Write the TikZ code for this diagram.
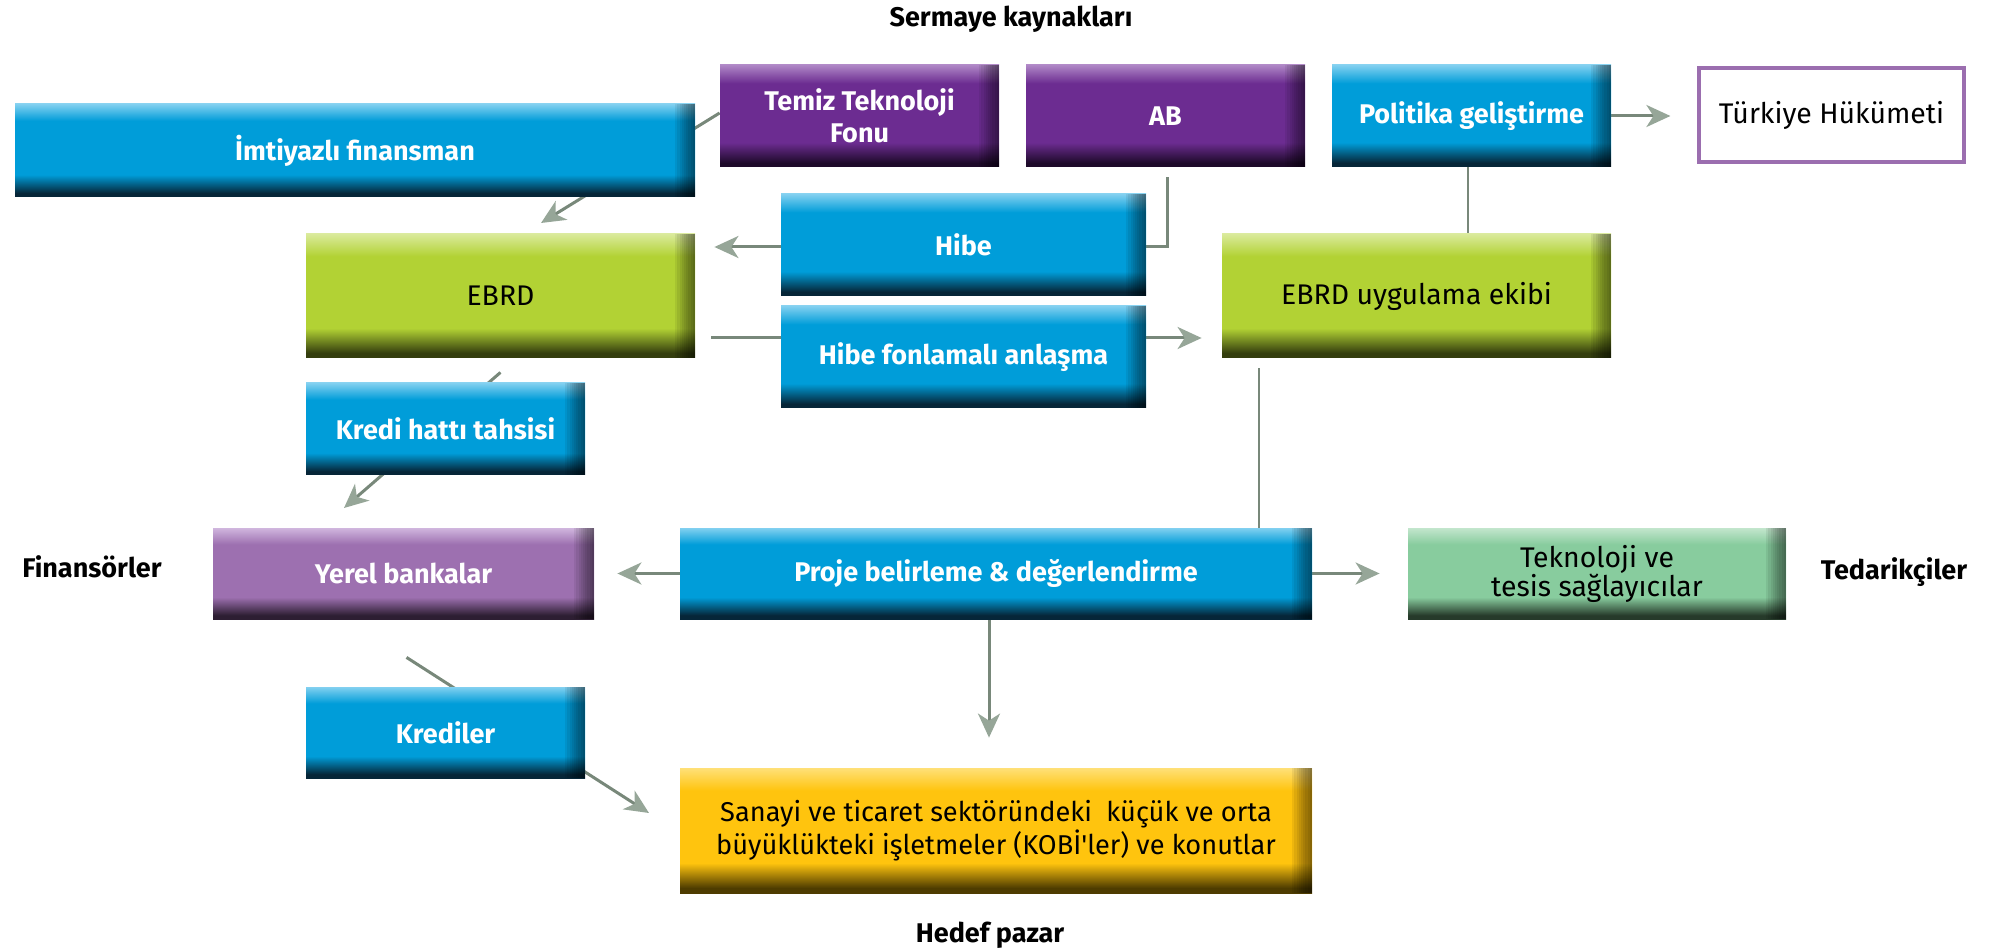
\documentclass[tikz,border=0pt]{standalone}
\usepackage{fontspec}
\setmainfont{Fira Sans}
\usetikzlibrary{arrows.meta,calc,backgrounds}

\definecolor{bluemn}{RGB}{0,157,217}
\definecolor{bluelt}{RGB}{130,208,240}
\definecolor{bluedk}{RGB}{6,38,56}
\definecolor{purmn}{RGB}{108,44,145}
\definecolor{purlt}{RGB}{175,135,198}
\definecolor{purdk}{RGB}{30,10,42}
\definecolor{lpmn}{RGB}{157,112,176}
\definecolor{lplt}{RGB}{208,182,222}
\definecolor{lpdk}{RGB}{45,30,50}
\definecolor{grmn}{RGB}{178,210,52}
\definecolor{grlt}{RGB}{218,234,155}
\definecolor{grdk}{RGB}{52,62,14}
\definecolor{mnmn}{RGB}{136,204,158}
\definecolor{mnlt}{RGB}{195,230,205}
\definecolor{mndk}{RGB}{38,58,42}
\definecolor{ylmn}{RGB}{255,196,14}
\definecolor{yllt}{RGB}{255,224,120}
\definecolor{yldk}{RGB}{78,60,0}
\definecolor{tkbd}{RGB}{155,110,175}
\definecolor{lnc}{RGB}{120,136,122}
\definecolor{arc}{RGB}{150,166,152}

\pgfdeclareverticalshading{shblue}{100bp}{color(0bp)=(bluedk); color(27bp)=(bluedk); color(37bp)=(bluemn); color(66bp)=(bluemn); color(75bp)=(bluelt); color(100bp)=(bluelt)}
\pgfdeclareverticalshading{shpur}{100bp}{color(0bp)=(purdk); color(27bp)=(purdk); color(37bp)=(purmn); color(66bp)=(purmn); color(75bp)=(purlt); color(100bp)=(purlt)}
\pgfdeclareverticalshading{shlp}{100bp}{color(0bp)=(lpdk); color(27bp)=(lpdk); color(37bp)=(lpmn); color(66bp)=(lpmn); color(75bp)=(lplt); color(100bp)=(lplt)}
\pgfdeclareverticalshading{shgr}{100bp}{color(0bp)=(grdk); color(27bp)=(grdk); color(37bp)=(grmn); color(66bp)=(grmn); color(75bp)=(grlt); color(100bp)=(grlt)}
\pgfdeclareverticalshading{shmn}{100bp}{color(0bp)=(mndk); color(27bp)=(mndk); color(37bp)=(mnmn); color(66bp)=(mnmn); color(75bp)=(mnlt); color(100bp)=(mnlt)}
\pgfdeclareverticalshading{shyl}{100bp}{color(0bp)=(yldk); color(27bp)=(yldk); color(37bp)=(ylmn); color(66bp)=(ylmn); color(75bp)=(yllt); color(100bp)=(yllt)}

\tikzset{
  box/.style={rectangle, inner sep=2pt, align=center, shade,
    path picture={\foreach \i in {1,...,9} {\fill[black,opacity=0.065]
      ([xshift={-1.1pt*\i}]path picture bounding box.south east) rectangle (path picture bounding box.north east);}}},
  whtxt/.style={text=white, font=\fontsize{13.5}{16}\selectfont\bfseries},
  bltxt/.style={text=black, font=\fontsize{14.2}{16.5}\selectfont},
  bluebox/.style={box, shading=shblue, whtxt},
  purbox/.style={box, shading=shpur, whtxt},
  lpbox/.style={box, shading=shlp, whtxt},
  grbox/.style={box, shading=shgr, bltxt},
  mnbox/.style={box, shading=shmn, bltxt},
  ylbox/.style={box, shading=shyl, text=black, font=\fontsize{13.6}{15.5}\selectfont},
  govbox/.style={rectangle, draw=tkbd, line width=1.6pt, fill=white, align=center, bltxt},
  lbl/.style={font=\fontsize{13.5}{16}\selectfont\bfseries, text=black},
  conn/.style={draw=lnc, line width=1.5pt},
  thin/.style={draw=lnc, line width=1pt},
  arr/.style={conn, -{Stealth[length=12pt,width=11pt,inset=3.5pt,color=arc]}}
}

\begin{document}
\begin{tikzpicture}[x=0.5pt,y=-0.5pt]
\useasboundingbox (0,0) rectangle (1990,951);

\node[lbl] (title) at (1011,19) {Sermaye kaynakları};
\node[purbox, minimum width=139.5pt, minimum height=51pt] (temiz) at (859.5,116) {Temiz Teknoloji\\Fonu};
\node[purbox, minimum width=139.5pt, minimum height=51pt] (ab) at (1165.5,116) {AB};
\node[bluebox, minimum width=139.5pt, minimum height=51pt] (politika) at (1471.5,116) {Politika geliştirme};
\node[govbox, minimum width=132.5pt, minimum height=47pt] (turkiye) at (1831.5,115) {Türkiye Hükümeti};
\node[bluebox, minimum width=340pt, minimum height=46.5pt] (imtiyaz) at (355,150.5) {İmtiyazlı finansman};
\node[grbox, minimum width=194.5pt, minimum height=62pt] (ebrd) at (500.5,296) {EBRD};
\node[bluebox, minimum width=182.5pt, minimum height=51pt] (hibe) at (963.5,245) {Hibe};
\node[bluebox, minimum width=182.5pt, minimum height=51pt] (hibefon) at (963.5,357) {Hibe fonlamalı anlaşma};
\node[grbox, minimum width=194.5pt, minimum height=62pt] (ebrduyg) at (1416.5,296) {EBRD uygulama ekibi};
\node[bluebox, minimum width=139.5pt, minimum height=46pt] (kredi) at (445.5,429) {Kredi hattı tahsisi};
\node[lbl] (finans) at (92,567) {Finansörler};
\node[lpbox, minimum width=190.5pt, minimum height=45.5pt] (yerel) at (403.5,573.5) {Yerel bankalar};
\node[bluebox, minimum width=316pt, minimum height=45.5pt] (proje) at (996,573.5) {Proje belirleme \& değerlendirme};
\node[mnbox, minimum width=189pt, minimum height=45.5pt, font=\fontsize{14.2}{14.5}\selectfont] (tekno) at (1597,573.5) {Teknoloji ve\\tesis sağlayıcılar};
\node[lbl] (tedarik) at (1894,572) {Tedarikçiler};
\node[bluebox, minimum width=139.5pt, minimum height=45.5pt] (krediler) at (445.5,732.5) {Krediler};
\node[ylbox, minimum width=316pt, minimum height=62.5pt] (sanayi) at (996,830.5) {Sanayi ve ticaret sektöründeki\ \ küçük ve orta\\büyüklükteki işletmeler (KOBİ\textquotesingle ler) ve konutlar};
\node[lbl] (hedef) at (990,935) {Hedef pazar};

\coordinate (ebrdtip) at (541,223);
\coordinate (yereltip) at (344,508);
\coordinate (sanayitip) at (649,813);

\begin{pgfonlayer}{background}
\draw[arr] ($(temiz.west)+(0,-3)$) -- (ebrdtip);
\draw[arr] ($(ab.south)+(2,10)$) |- ($(ebrd.east |- hibe.center)+(19,2)$);
\draw[arr] ($(ebrd.east)+(16,42)$) -- ($(ebrduyg.west)+(-20,42)$);
\draw[arr] (politika.east) -- ($(turkiye.west |- politika.east)+(-27,0)$);
\draw[thin] ($(politika.south)+(-4,0)$) -- ($(politika.south |- ebrduyg.north)+(-4,0)$);
\draw[arr] ($(ebrd.south)+(0,14)$) -- (yereltip);
\draw[thin] ($(ebrduyg.south west)+(37,10)$) -- ($(ebrduyg.south west |- proje.north)+(37,0)$);
\draw[arr] (proje.west) -- ($(yerel.east)+(23,0)$);
\draw[arr] (proje.east) -- ($(tekno.west)+(-28,0)$);
\draw[arr] ($(proje.south)+(-7,0)$) -- ($(sanayi.north)+(-7,-30)$);
\draw[arr] ($(yerel.south)+(3,38)$) -- (sanayitip);
\end{pgfonlayer}
\end{tikzpicture}
\end{document}
